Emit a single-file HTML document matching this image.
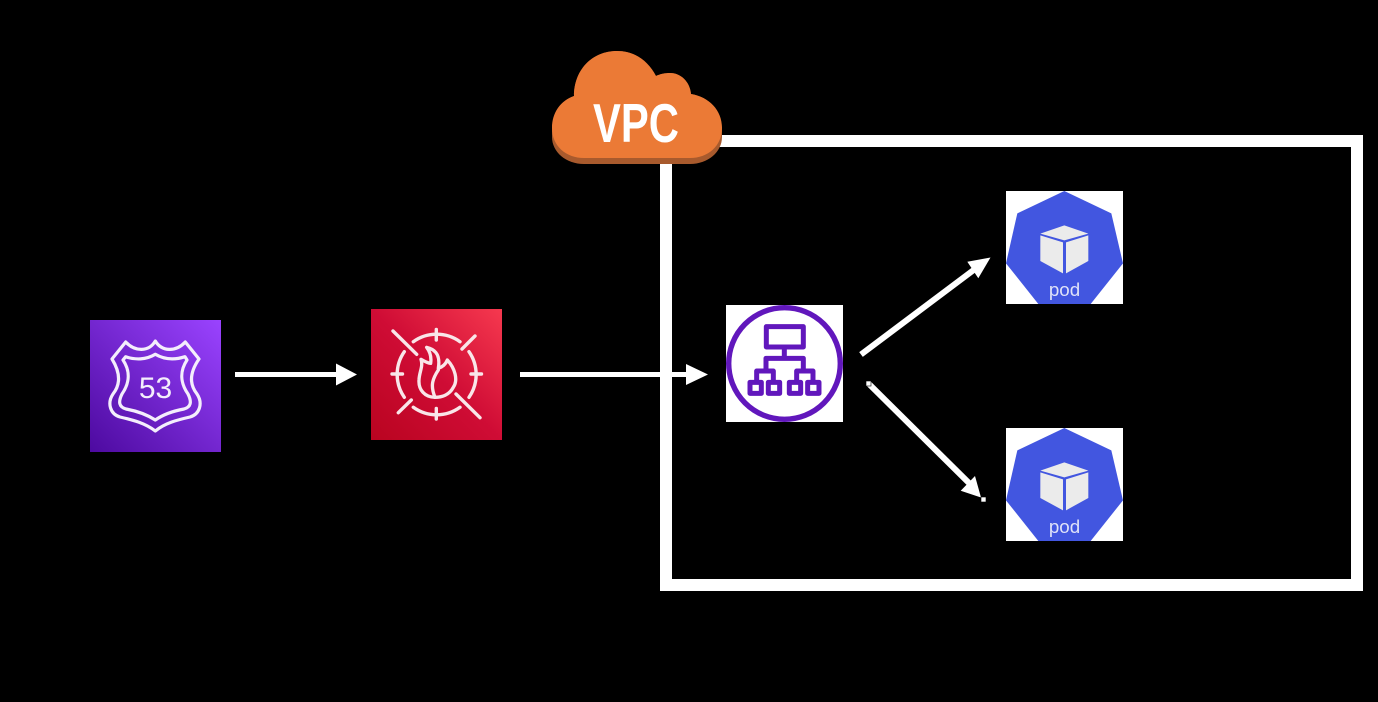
<!DOCTYPE html>
<html>
<head>
<meta charset="utf-8">
<style>
html,body{margin:0;padding:0;background:#000;width:1378px;height:702px;overflow:hidden}
svg{display:block}
</style>
</head>
<body>
<svg width="1378" height="702" viewBox="0 0 1378 702" xmlns="http://www.w3.org/2000/svg">
<defs>
<linearGradient id="r53" x1="0" y1="1" x2="1" y2="0"><stop offset="0" stop-color="#4d0aa0"/><stop offset="1" stop-color="#9a43ff"/></linearGradient>
<linearGradient id="waf" x1="0" y1="1" x2="1" y2="0"><stop offset="0" stop-color="#b90420"/><stop offset="0.5" stop-color="#cf0c35"/><stop offset="1" stop-color="#f6394f"/></linearGradient>
<g id="pod">
<rect x="6" y="6" width="117" height="113" fill="#fff"/>
<path transform="scale(.3333)" d="M193 18L334 85L369 235L272 357H115L18 235L52 85Z" fill="#4256e0"/>
<g transform="scale(.3333)" fill="#ebebeb">
<path d="M193 121L265 146L193 166L121 146Z"/>
<path d="M121 151L189 172V265L121 228Z"/>
<path d="M198 172L265 151V228L198 265Z"/>
</g>
<text x="64.5" y="111" font-family="'Liberation Sans',sans-serif" font-size="18.8" text-anchor="middle" fill="#dfe2f8">pod</text>
</g>
</defs>

<rect x="666" y="141" width="691" height="444" fill="none" stroke="#fff" stroke-width="12"/>

<!-- Route 53 -->
<rect x="90" y="320" width="131" height="132" fill="url(#r53)"/>
<g fill="none" stroke="#f4eefc" stroke-width="3.2" stroke-linejoin="round">
<path d="M155.3 341C162 352 176 352 185.3 342L199 359C190 372 189 384 197 394C203 403 200 414 190 417C177 420 165 423 155.3 431C145 423 133 420 120 417C110 414 107 403 113 394C121 384 120 372 112 359L125.7 342C135 352 149 352 155.3 341Z"/>
<path d="M155.3 354.3C165 360 175 360 185 356.7L187 360C179 372 181 384 188 394C192 402 191 407 184 409C173 411 164 414 155.3 420C146 414 137 411 126 409C119 407 118 402 122 394C129 384 131 372 123 360L125.7 356.7C135 360 146 360 155.3 354.3Z"/>
</g>
<text x="155.5" y="398" font-family="'Liberation Sans',sans-serif" font-size="30" text-anchor="middle" fill="#f4eefc">53</text>

<path d="M235 372H336V363.5L357 374.5L336 385.5V377H235Z" fill="#fff"/>

<!-- WAF -->
<rect x="371" y="309" width="131" height="131" fill="url(#waf)"/>
<g fill="none" stroke="#f9e6e9" stroke-width="3.4" stroke-linecap="round">
<path d="M436.3 329.5V340M392 374H402.5M471 374H481.5M436.3 408.5V419M393 331L416.7 354.3M456 394L480 417.7M462 349L475 336M398.3 412.7L411.3 400"/>
<path d="M413.3 341.7A40 40 0 0 1 460 341.7M413.3 407.3A40 40 0 0 0 460 407.3M404.3 351.7A40 40 0 0 0 404.3 397.3M469 351.7A40 40 0 0 1 469 397.3"/>
<g transform="translate(360 300) scale(.3333)" stroke-width="10">
<path d="M200 142C235 150 240 175 235 205C250 200 258 190 262 180C285 205 295 240 280 262C268 285 245 292 225 292C195 292 175 270 177 240C178 215 190 200 183 178C195 185 205 190 212 190C215 170 210 155 200 142Z" stroke-linejoin="round"/>
<path d="M225 292C212 260 215 240 235 210"/>
</g>
</g>

<!-- VPC cloud -->
<path d="M574 96C574 70 592 51 617 51C635 51 648 61 656 76C660 74 665 73 670 73C681 73 690 82 691 94C709 97 722 110 722 131V137C722 152 708 164 690 164H584C566 164 552 152 552 137V131C552 113 560 101 574 96Z" fill="#a85a2d"/>
<path d="M574 96C574 70 592 51 617 51C635 51 648 61 656 76C660 74 665 73 670 73C681 73 690 82 691 94C709 97 722 110 722 128C722 146 708 158 690 158H584C566 158 552 146 552 128C552 113 560 101 574 96Z" fill="#eb7a36"/>
<text x="593" y="142" font-family="'Liberation Sans',sans-serif" font-weight="bold" font-size="55" textLength="86" lengthAdjust="spacingAndGlyphs" fill="#fff">VPC</text>

<path d="M520 372H686V364L708 374.5L686 385V377H520Z" fill="#fff"/>

<!-- ALB -->
<rect x="726" y="305" width="117" height="117" fill="#fff"/>
<circle cx="784.5" cy="363.5" r="55.8" fill="none" stroke="#6117bc" stroke-width="5.4"/>
<g transform="translate(715 295) scale(.3333)" fill="none" stroke="#6117bc" stroke-width="15" stroke-linejoin="round">
<rect x="154" y="95" width="111" height="61"/>
<path d="M208 162V190M153 225V190H265V225M125 258V228H175V258M245 258V228H294V258"/>
<rect x="105" y="262" width="34" height="33"/>
<rect x="160" y="262" width="34" height="33"/>
<rect x="223" y="262" width="34" height="33"/>
<rect x="278" y="262" width="34" height="33"/>
</g>

<!-- Pods -->
<use href="#pod" x="1000" y="185"/>
<use href="#pod" x="1000" y="422"/>

<!-- Diagonal arrows -->
<line x1="861" y1="354.5" x2="975" y2="269" stroke="#fff" stroke-width="6"/>
<path d="M990.5 257.5L967.3 261.7L978.3 278.3Z" fill="#fff"/>
<line x1="868.5" y1="383.5" x2="970" y2="484" stroke="#fff" stroke-width="6"/>
<path d="M981 497.5L975 476L960.7 490.7Z" fill="#fff"/>
<rect x="866" y="381" width="5" height="5" fill="#fff" stroke="#000" stroke-width=".6"/>
<rect x="981" y="497" width="5" height="5" fill="#fff" stroke="#000" stroke-width=".6"/>
</svg>
</body>
</html>
